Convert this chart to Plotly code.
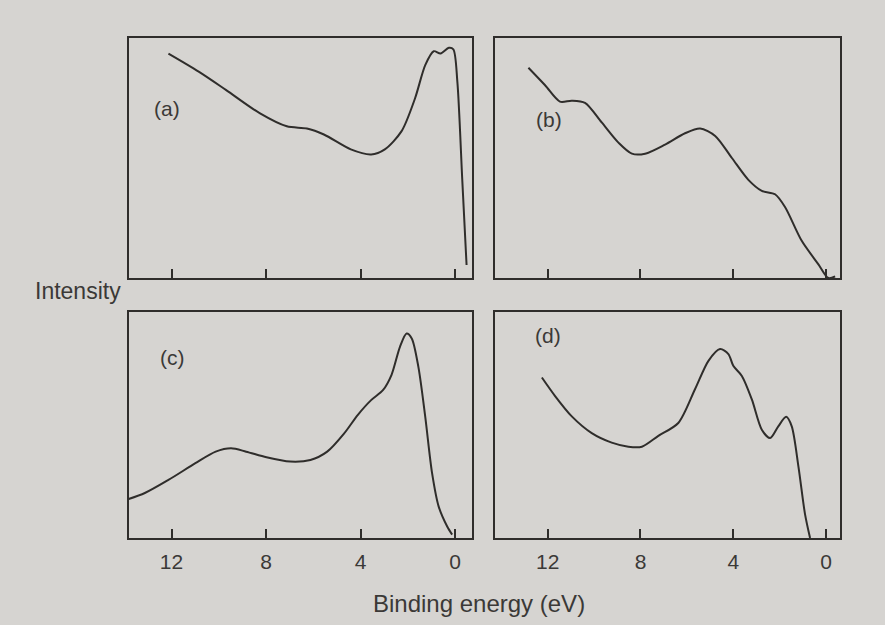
import plotly.graph_objects as go

# ---- data (binding energy eV, relative intensity) ----
a_x = [12.13, 10.85, 9.70, 8.27, 7.12, 6.27, 5.55, 4.41, 3.55, 2.97, 2.26, 1.69, 1.26, 0.90, 0.61, 0.26, 0.07, -0.10, -0.31, -0.49]
a_y = [0.935, 0.860, 0.784, 0.687, 0.632, 0.623, 0.598, 0.536, 0.515, 0.536, 0.612, 0.749, 0.887, 0.945, 0.935, 0.959, 0.953, 0.818, 0.405, 0.054]

b_x = [12.83, 12.11, 11.47, 10.96, 10.39, 9.67, 8.95, 8.37, 7.80, 6.94, 6.08, 5.43, 4.78, 4.06, 3.35, 2.77, 2.20, 1.77, 1.05, 0.33, -0.10, -0.39]
b_y = [0.876, 0.803, 0.735, 0.739, 0.730, 0.648, 0.564, 0.518, 0.518, 0.556, 0.603, 0.623, 0.592, 0.500, 0.409, 0.363, 0.349, 0.296, 0.155, 0.057, 0.000, 0.007]

c_x = [13.92, 13.13, 12.13, 10.99, 10.13, 9.48, 8.84, 7.98, 6.98, 6.12, 5.41, 4.69, 4.12, 3.55, 3.05, 2.69, 2.33, 2.05, 1.83, 1.55, 1.26, 0.97, 0.69, 0.33, 0.12]
c_y = [0.169, 0.199, 0.257, 0.331, 0.382, 0.397, 0.382, 0.357, 0.338, 0.345, 0.382, 0.463, 0.544, 0.610, 0.654, 0.721, 0.846, 0.905, 0.883, 0.757, 0.537, 0.287, 0.139, 0.051, 0.015]

d_x = [12.25, 11.68, 10.96, 10.10, 9.24, 8.52, 7.94, 7.23, 6.37, 5.65, 5.07, 4.57, 4.21, 4.00, 3.63, 3.20, 2.77, 2.41, 2.06, 1.72, 1.48, 1.19, 0.91, 0.69]
d_y = [0.710, 0.628, 0.538, 0.464, 0.422, 0.404, 0.404, 0.452, 0.509, 0.658, 0.784, 0.836, 0.814, 0.762, 0.717, 0.613, 0.479, 0.442, 0.494, 0.536, 0.494, 0.315, 0.107, 0.000]

tick_vals = [12, 8, 4, 0]
tick_text = ["12", "8", "4", "0"]
panel_labels = ["(a)", "(b)", "(c)", "(d)"]

W, H = 885, 625
BG = "#d6d4d1"
INK = "#2f2d2b"
TXT = "#3b3937"
FONT = "Liberation Sans, Arial, sans-serif"

def fx(px):
    return px / W

def fy(py):
    return 1 - py / H

left_dom = [fx(129), fx(472)]
right_dom = [fx(495), fx(840)]
top_dom = [fy(278), fy(38)]
bot_dom = [fy(538), fy(312)]

left_range = [13.8, -0.72]
right_range = [14.27, -0.6]

panels = [
    (a_x, a_y, left_dom, top_dom, left_range, False),
    (b_x, b_y, right_dom, top_dom, right_range, False),
    (c_x, c_y, left_dom, bot_dom, left_range, True),
    (d_x, d_y, right_dom, bot_dom, right_range, True),
]

fig = go.Figure()
layout = {}
for i, (xs, ys, xd, yd, xr, show) in enumerate(panels, start=1):
    xa = "xaxis" if i == 1 else f"xaxis{i}"
    ya = "yaxis" if i == 1 else f"yaxis{i}"
    xref = "x" if i == 1 else f"x{i}"
    yref = "y" if i == 1 else f"y{i}"
    fig.add_trace(go.Scatter(x=xs, y=ys, mode="lines", xaxis=xref, yaxis=yref,
                             line=dict(color=INK, width=2, shape="spline", smoothing=0.8),
                             showlegend=False, hoverinfo="skip"))
    layout[xa] = dict(domain=xd, range=xr, anchor=yref, tickmode="array",
                      tickvals=tick_vals, ticktext=tick_text, showticklabels=show,
                      ticks="inside", ticklen=9, tickwidth=1.5, tickcolor=INK,
                      ticklabelstandoff=4,
                      showline=True, linecolor=INK, linewidth=2, mirror=True,
                      showgrid=False, zeroline=False,
                      tickfont=dict(family=FONT, size=21, color=TXT))
    layout[ya] = dict(domain=yd, range=[0, 1], anchor=xref, showticklabels=False,
                      ticks="", showline=True, linecolor=INK, linewidth=2, mirror=True,
                      showgrid=False, zeroline=False)

fig.update_layout(**layout)

label_pos = [(167, 108), (549, 120), (172, 357), (548, 335)]
anns = []
for txt, (px, py) in zip(panel_labels, label_pos):
    anns.append(dict(text=txt, x=fx(px), y=fy(py), xref="paper", yref="paper",
                     xanchor="center", yanchor="middle",
                     showarrow=False, font=dict(family=FONT, size=21, color=TXT)))
anns.append(dict(text="Intensity", x=fx(78), y=fy(291), xref="paper", yref="paper",
                 xanchor="center", yanchor="middle",
                 showarrow=False, font=dict(family=FONT, size=23, color=TXT)))
anns.append(dict(text="Binding energy (eV)", x=fx(479), y=fy(603), xref="paper", yref="paper",
                 xanchor="center", yanchor="middle",
                 showarrow=False, font=dict(family=FONT, size=24, color=TXT)))

fig.update_layout(width=W, height=H, margin=dict(l=0, r=0, t=0, b=0),
                  paper_bgcolor=BG, plot_bgcolor=BG, annotations=anns)

fig.write_html("out.html")
